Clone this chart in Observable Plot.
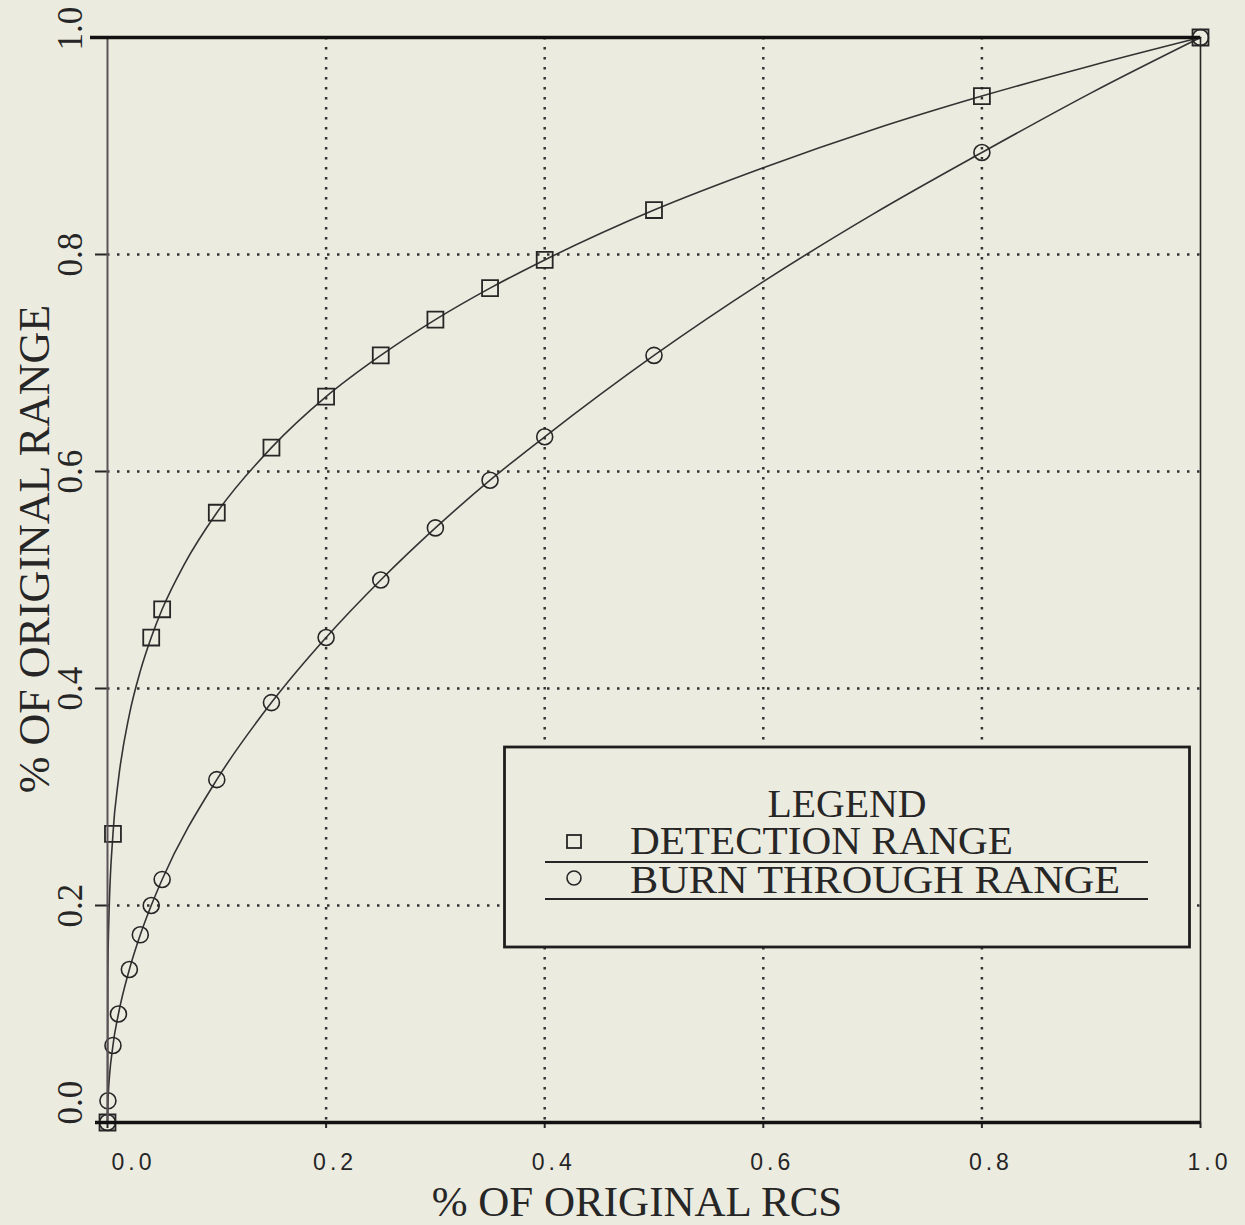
<!DOCTYPE html>
<html><head><meta charset="utf-8">
<script src="https://cdn.jsdelivr.net/npm/d3@7"></script>
<script src="https://cdn.jsdelivr.net/npm/@observablehq/plot@0.6"></script>
<style>
html,body{margin:0;padding:0;background:#ecebdf;}
#wrap{position:relative;width:1245px;height:1225px;}
#wrap svg.overlay{position:absolute;left:0;top:0;pointer-events:none;}
</style></head><body><div id="wrap"></div>
<script>
// ---- data ----
const xTickVals = [0.0, 0.2, 0.4, 0.6, 0.8, 1.0];
const xTickLabels = ["0.0", "0.2", "0.4", "0.6", "0.8", "1.0"];
const yTickVals = [0.0, 0.2, 0.4, 0.6, 0.8, 1.0];
const yTickLabels = ["0.0", "0.2", "0.4", "0.6", "0.8", "1.0"];
const gridVals = [0.2, 0.4, 0.6, 0.8];

// markers: detection range (squares)
const detX = [0, 0.005, 0.04, 0.05, 0.1, 0.15, 0.2, 0.25, 0.3, 0.35, 0.4, 0.5, 0.8, 1.0];
const detY = [0, 0.266, 0.447, 0.473, 0.562, 0.622, 0.669, 0.707, 0.740, 0.769, 0.795, 0.841, 0.946, 1.0];
// markers: burn through range (circles)
const burnX = [0, 0.0004, 0.005, 0.01, 0.02, 0.03, 0.04, 0.05, 0.1, 0.15, 0.2, 0.25, 0.3, 0.35, 0.4, 0.5, 0.8, 1.0];
const burnY = [0, 0.02, 0.071, 0.1, 0.141, 0.173, 0.2, 0.224, 0.316, 0.387, 0.447, 0.5, 0.548, 0.592, 0.632, 0.707, 0.894, 1.0];

// curve traces
const detLineX = [0, 0.0003, 0.001, 0.005, 0.01, 0.02, 0.03, 0.04, 0.05, 0.07, 0.1, 0.15, 0.2, 0.25, 0.3, 0.35, 0.4, 0.5, 0.6, 0.7, 0.8, 0.9, 1.0];
const detLineY = [0, 0.13, 0.178, 0.266, 0.316, 0.376, 0.416, 0.447, 0.473, 0.514, 0.562, 0.622, 0.669, 0.707, 0.740, 0.769, 0.795, 0.841, 0.880, 0.915, 0.946, 0.974, 1.0];
const burnLineX = [0, 0.0004, 0.005, 0.01, 0.02, 0.03, 0.04, 0.05, 0.1, 0.15, 0.2, 0.25, 0.3, 0.35, 0.4, 0.5, 0.6, 0.7, 0.8, 0.9, 1.0];
const burnLineY = [0, 0.02, 0.071, 0.1, 0.141, 0.173, 0.2, 0.224, 0.316, 0.387, 0.447, 0.5, 0.548, 0.592, 0.632, 0.707, 0.775, 0.837, 0.894, 0.949, 1.0];

const xTitle = "% OF ORIGINAL RCS";
const yTitle = "% OF ORIGINAL RANGE";
const legendTitle = "LEGEND";
const seriesNames = ["DETECTION RANGE", "BURN THROUGH RANGE"];

// ---- build ----
const bg = "#ecebdf";
const ink = "#262626";
const serif = "'Liberation Serif','Times New Roman',serif";
const sans = "'Liberation Sans',Arial,sans-serif";

const zip = (xs, ys) => xs.map((x, i) => ({x, y: ys[i]}));
const det = zip(detX, detY), burn = zip(burnX, burnY);
const detLine = zip(detLineX, detLineY), burnLine = zip(burnLineX, burnLineY);
const xt = xTickVals.map((v, i) => ({v, label: xTickLabels[i]}));
const yt = yTickVals.map((v, i) => ({v, label: yTickLabels[i]}));

const yLab = {y: "v", text: "label", frameAnchor: "left", dx: -37, rotate: -90, lineAnchor: "middle",
  textAnchor: "middle", fontFamily: serif, fontSize: 35, fill: ink};
const xLab = {x: "v", text: "label", frameAnchor: "bottom", dy: 40, lineAnchor: "middle", textAnchor: "middle",
  fontFamily: sans, fontSize: 23, fill: ink};

const chart = Plot.plot({
  width: 1245, height: 1225,
  marginLeft: 107, marginRight: 45, marginTop: 37, marginBottom: 103,
  x: {domain: [0, 1], ticks: xTickVals, tickSize: 6, tickFormat: () => "", label: null},
  y: {domain: [0, 1], ticks: yTickVals, tickSize: 12, tickFormat: () => "", label: null},
  style: {background: bg, color: ink, fontFamily: serif, overflow: "visible"},
  marks: [
    Plot.ruleX(gridVals, {x: d => d, stroke: "#333", strokeWidth: 2.5, strokeDasharray: "2.5,7.5"}),
    Plot.ruleY(gridVals, {y: d => d, stroke: "#333", strokeWidth: 2.5, strokeDasharray: "2.5,7.5"}),
    Plot.line(detLine, {x: "x", y: "y", curve: "monotone-x", stroke: "#333", strokeWidth: 1.6}),
    Plot.line(burnLine, {x: "x", y: "y", curve: "monotone-x", stroke: "#333", strokeWidth: 1.6}),
    Plot.dot(det, {x: "x", y: "y", symbol: "square", r: 9, stroke: ink, strokeWidth: 1.8, fill: "none"}),
    Plot.dot(burn, {x: "x", y: "y", symbol: "circle", r: 8, stroke: ink, strokeWidth: 1.6, fill: "none"}),
    Plot.ruleX([0], {stroke: "#5a5358", strokeWidth: 2}),
    Plot.ruleX([1], {stroke: ink, strokeWidth: 1.6}),
    Plot.ruleY([1], {stroke: "#111", strokeWidth: 3.5, insetLeft: -17}),
    Plot.ruleY([0], {stroke: "#111", strokeWidth: 3.5, insetLeft: -12}),
    // x tick labels
    Plot.text(xt.slice(1), {...xLab, dx: 9}),
    Plot.text(xt.slice(0, 1), {...xLab, dx: 26}),
    // y tick labels (rotated)
    Plot.text(yt.slice(1, 5), yLab),
    Plot.text(yt.slice(5), {...yLab, dy: -9}),
    Plot.text(yt.slice(0, 1), {...yLab, dy: -20}),
    // axis titles
    Plot.text([xTitle], {text: d => d, frameAnchor: "bottom", dx: -17, dy: 80, lineAnchor: "middle", textAnchor: "middle",
      fontFamily: serif, fontSize: 43, fill: ink}),
    Plot.text([yTitle], {text: d => d, frameAnchor: "left", dx: -73, dy: -31, rotate: -90, lineAnchor: "middle",
      textAnchor: "middle", fontFamily: serif, fontSize: 44, fill: ink})
  ]
});
d3.select(chart).selectAll("g[aria-label='y-axis tick'] path, g[aria-label='x-axis tick'] path").attr("stroke-width", 2);
const wrap = document.getElementById("wrap");
wrap.appendChild(chart);
// widen the spacing of the sans x tick labels, as in the reference
d3.select(chart).selectAll("text")
  .filter(function() { return getComputedStyle(this).fontFamily.includes("Liberation Sans"); })
  .style("letter-spacing", "4px");

// ---- legend overlay ----
const ov = d3.select(wrap).append("svg").attr("class", "overlay")
  .attr("width", 1245).attr("height", 1225).attr("font-family", serif);
ov.append("rect").attr("x", 504.5).attr("y", 747).attr("width", 685).attr("height", 200)
  .attr("fill", bg).attr("stroke", "#1e1e1e").attr("stroke-width", 2.8);
ov.append("text").attr("x", 847).attr("y", 817).attr("text-anchor", "middle")
  .attr("font-size", 39).attr("fill", ink).attr("textLength", 159).attr("lengthAdjust", "spacingAndGlyphs").text(legendTitle);
ov.append("rect").attr("x", 567).attr("y", 835).attr("width", 14).attr("height", 13)
  .attr("fill", "none").attr("stroke", ink).attr("stroke-width", 1.8);
ov.append("circle").attr("cx", 574).attr("cy", 878).attr("r", 7)
  .attr("fill", "none").attr("stroke", ink).attr("stroke-width", 1.6);
const rows = [{name: seriesNames[0], base: 854, len: 383, under: 862}, {name: seriesNames[1], base: 893, len: 490, under: 899}];
rows.forEach(r => {
  ov.append("text").attr("x", 630).attr("y", r.base).attr("font-size", 39).attr("fill", ink)
    .attr("textLength", r.len).attr("lengthAdjust", "spacingAndGlyphs").text(r.name);
  ov.append("line").attr("x1", 545).attr("x2", 1148).attr("y1", r.under).attr("y2", r.under)
    .attr("stroke", ink).attr("stroke-width", 1.8);
});
</script></body></html>
